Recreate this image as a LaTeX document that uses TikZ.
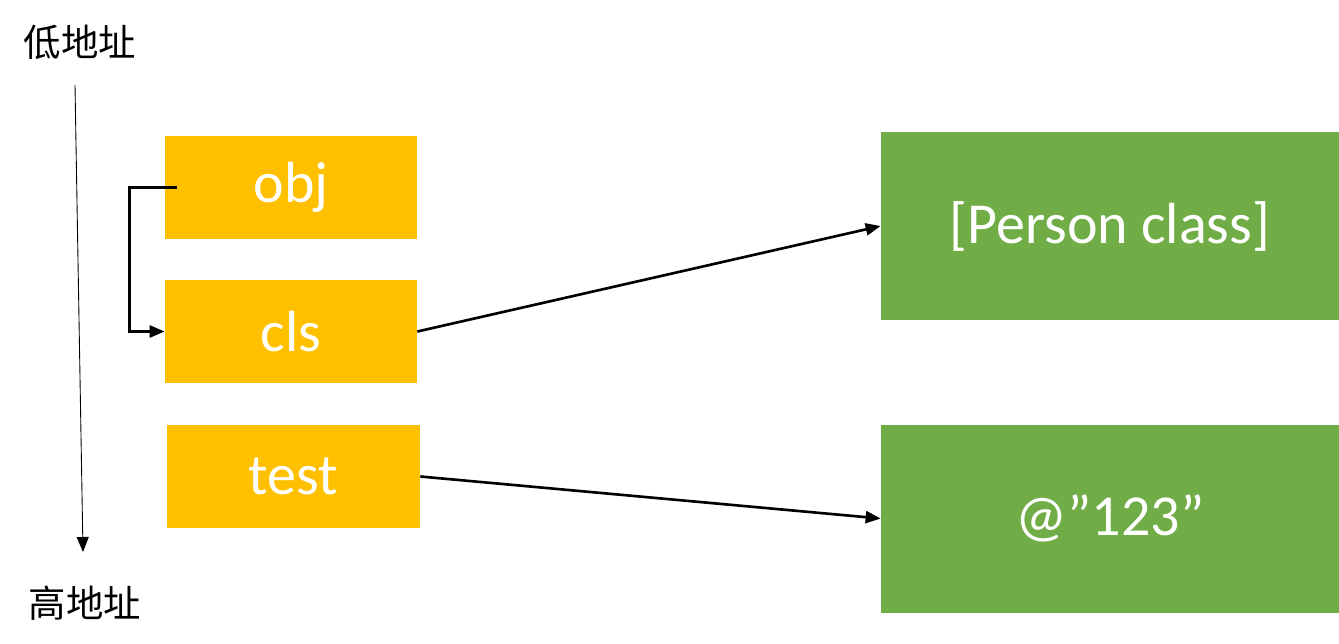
\documentclass[tikz,border=0pt]{standalone}
\usepackage{fontspec}
\setmainfont{Carlito}
\newfontfamily\cjk{Noto Sans CJK SC}
\usepackage{tikz}
\usetikzlibrary{arrows.meta}
\definecolor{slotfill}{HTML}{FFC000}
\definecolor{objfill}{HTML}{70AD47}
\tikzset{
  slot/.style={fill=slotfill, text=white, minimum width=5.04cm, minimum height=2.06cm,
               inner sep=0pt, font=\fontsize{33}{40}\selectfont},
  heapobj/.style={fill=objfill, text=white, minimum width=9.16cm, minimum height=3.76cm,
                  inner sep=0pt, font=\fontsize{33}{40}\selectfont},
  addr/.style={font=\cjk\fontsize{21.3}{26}\selectfont, text=black},
  link/.style={draw=black, line width=1.5pt, -{Triangle[length=0.3cm, width=0.24cm]}},
  axis/.style={draw=black, line width=0.5pt, -{Triangle[length=0.3cm, width=0.24cm]}},
}
\begin{document}
\begin{tikzpicture}
  \useasboundingbox (0,0) rectangle (26.78,-12.88);
  % --- address axis ---
  \node[addr] (lo) at (1.60,-0.84) {低地址};
  \node[addr] (hi) at (1.70,-12.06) {高地址};
  \coordinate (axtop) at (1.50,-1.70);
  \coordinate (axbot) at (1.66,-11.04);
  \draw[axis] (axtop) -- (axbot);

  % --- stack slots ---
  \node[slot] (obj)  at (5.82,-3.75) {obj};
  \node[slot] (cls)  at (5.82,-6.63) {cls};
  \node[slot, minimum width=5.06cm] (test) at (5.87,-9.53) {test};

  % --- heap objects ---
  \node[heapobj] (person) at (22.20,-4.52) {[Person class]};
  \node[heapobj] (str)    at (22.20,-10.37) {@”123”};

  % --- pointers ---
  \draw[link] ([xshift=0.24cm]obj.west) -- ++(-0.94,0) |- (cls.west);
  \draw[link] (cls.east) -- (person.west);
  \draw[link] (test.east) -- (str.west);
\end{tikzpicture}
\end{document}
